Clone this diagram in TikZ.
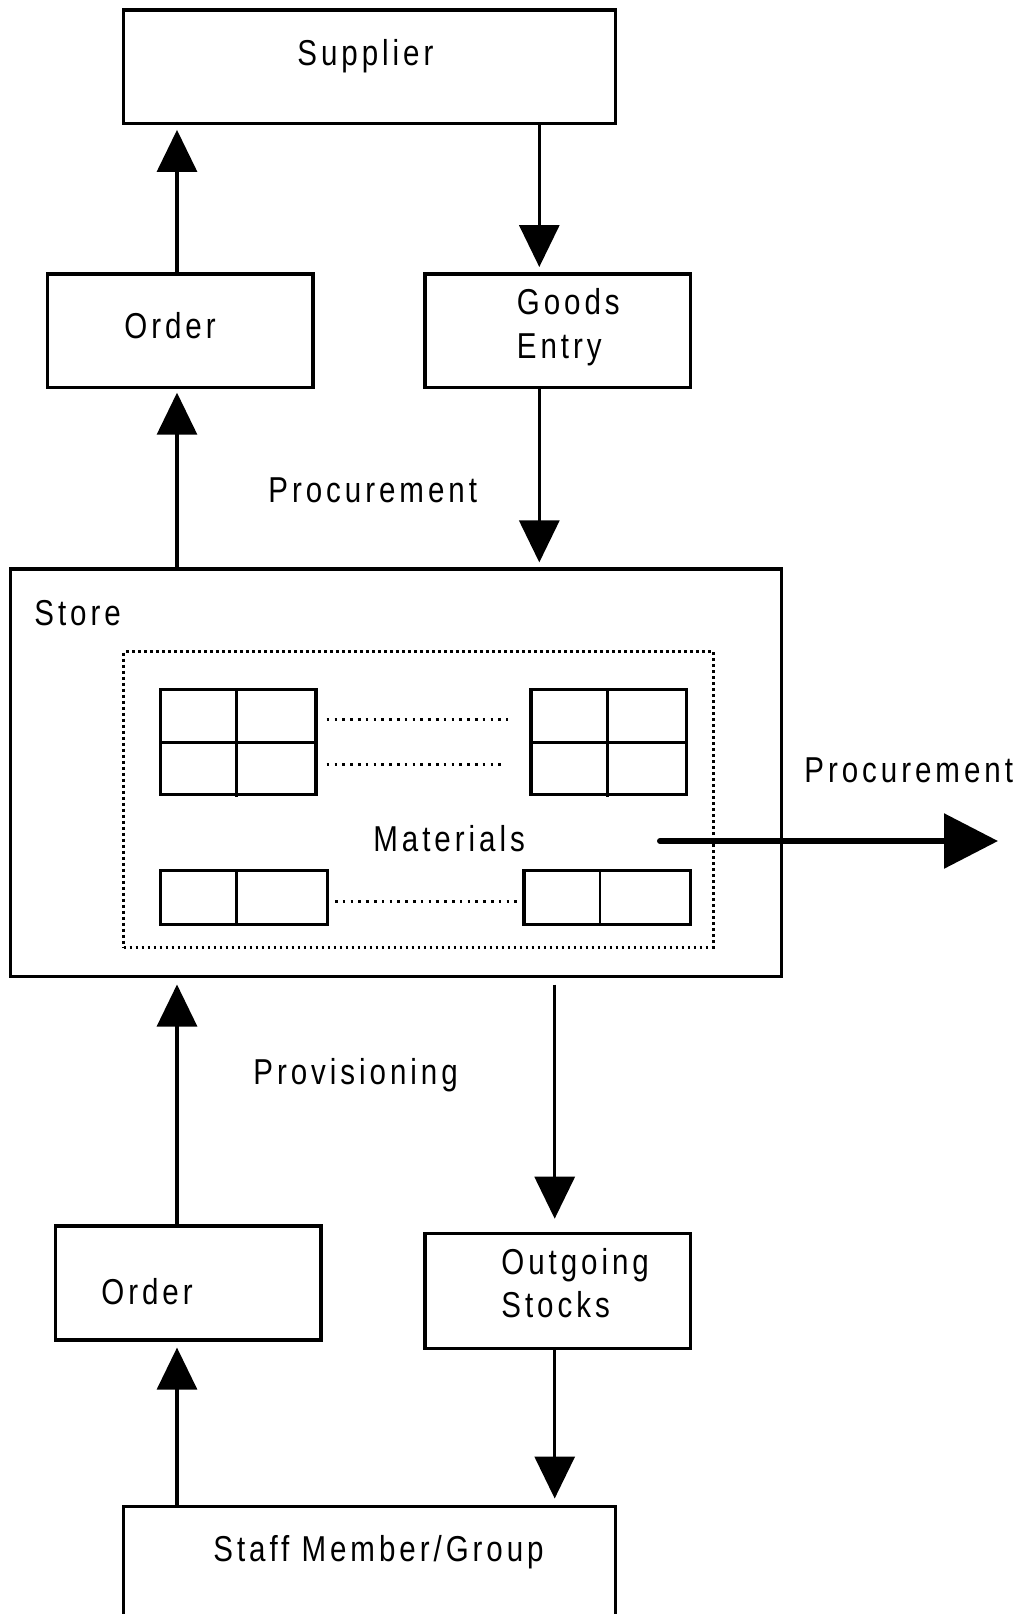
\documentclass[tikz,border=0pt]{standalone}
\usepackage{fontspec}
\setmainfont{Liberation Sans}[FakeStretch=0.82, LetterSpace=11]
\usetikzlibrary{arrows.meta,fit}

\begin{document}
\begin{tikzpicture}[x=0.5pt,y=-0.5pt,
  every node/.style={font=\fontsize{18pt}{21pt}\selectfont},
  block/.style={draw, line width=1.6pt, inner sep=0pt},
  txt/.style={inner sep=0pt, anchor=base west},
  flow/.style={line width=1.6pt, -{Triangle[length=21pt,width=20pt]}},
  bigflow/.style={line width=3pt, line cap=round, -{Triangle[length=27pt,width=27pt]}},
  cell/.style={line width=1.6pt},
  dots/.style={line width=1.3pt, dash pattern=on 1.3pt off 2.6pt},
  zone/.style={draw, line width=1.4pt, dash pattern=on 1.4pt off 1.6pt, inner sep=0pt}]

\clip (0,0) rectangle (1021,1614);

% main blocks
\node[block, fit={(123.5,10) (615.5,123.5)}] (supplier) {};
\node[block, fit={(47.3,274) (313,387.5)}] (order1) {};
\node[block, fit={(425,274) (690.6,387.5)}] (goods) {};
\node[block, fit={(10.3,569) (781.2,976.5)}] (store) {};
\node[zone, fit={(123.5,651.7) (713.2,947.3)}] (materials) {};
\node[block, fit={(55.6,1226) (321,1340)}] (order2) {};
\node[block, fit={(425,1233.3) (690.6,1348.3)}] (outgoing) {};
\node[block, fit={(123.5,1506.5) (615.5,1660)}] (staff) {};

% texts
\node[txt] (tsupplier) at (297,65) {Supplier};
\node[txt] (torder1) at (124,338.3) {Order};
\node[txt] (tgoods) at (516.5,314.3) {Goods};
\node[txt] (tentry) at (516.5,358.3) {Entry};
\node[txt] (tproc1) at (268,502.7) {Procurement};
\node[txt] (tstore) at (34,625) {Store};
\node[txt] (tmat) at (373,851) {Materials};
\node[txt] (tproc2) at (804,782.7) {Procurement};
\node[txt] (tprov) at (253,1084.3) {Provisioning};
\node[txt] (torder2) at (101,1304.3) {Order};
\node[txt] (tout) at (501,1274.3) {Outgoing};
\node[txt] (tstocks) at (501,1317.3) {Stocks};
\node[txt] (tstaff) at (213,1561.7) {Staff Member/Group};

% connector columns
\coordinate (cl) at (177,0);
\coordinate (cr) at (539.3,0);
\coordinate (cb) at (554.7,0);

\draw[flow, shorten >=2.4pt] (cl |- order1.north) -- (cl |- supplier.south);
\draw[flow, shorten >=2.7pt] (cr |- supplier.south) -- (cr |- goods.north);
\draw[flow, shorten >=1.8pt] (cl |- store.north) -- (cl |- order1.south);
\draw[flow, shorten >=2.5pt] (cr |- goods.south) -- (cr |- store.north);
\draw[flow, shorten >=3.2pt] (cl |- order2.north) -- (cl |- store.south);
\draw[flow, shorten <=3.2pt, shorten >=6.5pt] (cb |- store.south) -- (cb |- outgoing.north);
\draw[flow, shorten >=3pt] (cl |- staff.north) -- (cl |- order2.south);
\draw[flow, shorten >=3.2pt] (cb |- outgoing.south) -- (cb |- staff.north);

% outgoing procurement flow
\coordinate (pstart) at (660,841);
\coordinate (pend) at (998,841);
\draw[bigflow] (pstart) -- (pend);

% storage racks: two four-cell units
\draw[cell] (160.6,689.3) rectangle (316,794.3);
\draw[cell] (160.6,742.7) -- (316,742.7);
\draw[line width=1.3pt] (236.7,689.3) -- (236.7,797);
\draw[cell] (531,689.3) rectangle (686.5,794.3);
\draw[cell] (531,742.7) -- (686.5,742.7);
\draw[line width=1.3pt] (607.2,689.3) -- (607.2,797);
% two two-cell units
\draw[cell] (160.6,870.7) rectangle (327.3,924.3);
\draw[line width=1.3pt] (236.7,870.7) -- (236.7,924.3);
\draw[cell] (523.9,870.7) rectangle (690.6,924.3);
\draw[line width=1.3pt] (600,870.7) -- (600,924.3);

% ellipsis rows between units
\draw[dots] (326.7,719.3) -- (508,719.3);
\draw[dots] (326.7,764.3) -- (502,764.3);
\draw[dots] (335,901.3) -- (517,901.3);

\end{tikzpicture}
\end{document}
